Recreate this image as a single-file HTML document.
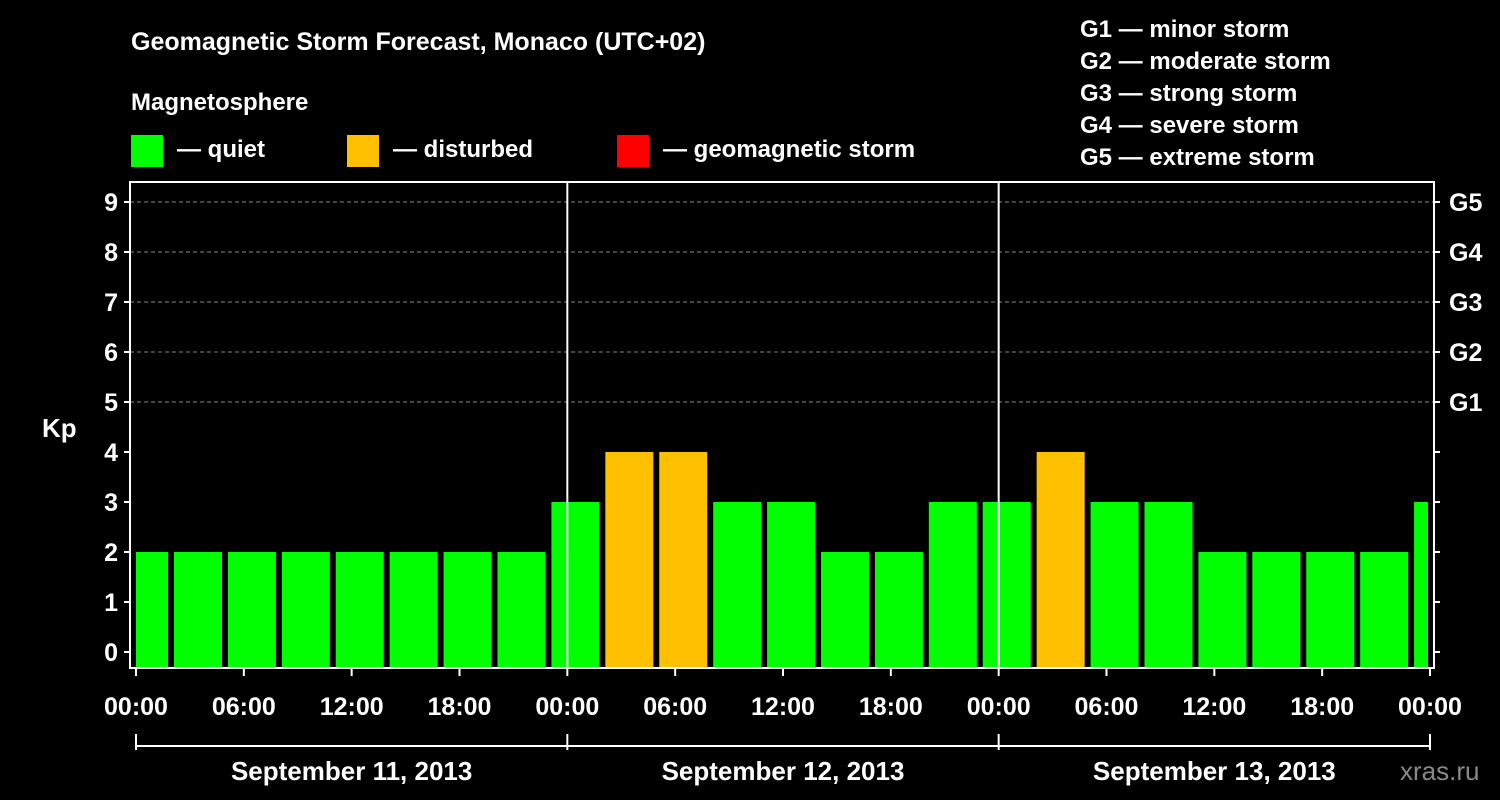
<!DOCTYPE html>
<html><head><meta charset="utf-8"><style>
html,body{margin:0;padding:0;background:#000;}
svg{display:block;font-family:"Liberation Sans",Arial,sans-serif;font-weight:bold;}
</style></head><body>
<svg id="chart" width="1500" height="800">
<text x="131" y="50" fill="#fff" font-size="25">Geomagnetic Storm Forecast, Monaco (UTC+02)</text>
<text x="131" y="110" fill="#fff" font-size="24">Magnetosphere</text>
<g><rect x="131" y="135" width="32" height="32" fill="#00ff00"/><text x="177" y="157" fill="#fff" font-size="24">— quiet</text></g>
<g><rect x="347" y="135" width="32" height="32" fill="#ffc000"/><text x="393" y="157" fill="#fff" font-size="24">— disturbed</text></g>
<g><rect x="617" y="135" width="32" height="32" fill="#ff0000"/><text x="663" y="157" fill="#fff" font-size="24">— geomagnetic storm</text></g>
<g fill="#fff" font-size="24">
<text x="1080" y="37">G1 — minor storm</text>
<text x="1080" y="69">G2 — moderate storm</text>
<text x="1080" y="101">G3 — strong storm</text>
<text x="1080" y="133">G4 — severe storm</text>
<text x="1080" y="165">G5 — extreme storm</text>
</g>
<text x="42" y="437" fill="#fff" font-size="26">Kp</text>
<text x="1400" y="780" fill="#888" font-size="26" font-weight="normal">xras.ru</text>
<g id="grid"></g><g id="bars"></g><g id="axes"></g>
</svg>
<script>
const kpValues=[2,2,2,2,2,2,2,2,3,4,4,3,3,2,2,3,3,4,3,3,2,2,2,2,3];
const barHours=[0.45,3.45,6.45,9.45,12.45,15.45,18.45,21.45,24.45,27.45,30.45,33.45,36.45,39.45,42.45,45.45,48.45,51.45,54.45,57.45,60.45,63.45,66.45,69.45,72.45];
const timeTickLabels=["00:00","06:00","12:00","18:00","00:00","06:00","12:00","18:00","00:00","06:00","12:00","18:00","00:00"];
const dayLabels=["September 11, 2013","September 12, 2013","September 13, 2013"];
const yTicks=[0,1,2,3,4,5,6,7,8,9];
const gLabels=["G1","G2","G3","G4","G5"];
const NS="http://www.w3.org/2000/svg";
const L=130,R=1434,T=182,B=668;
const x=h=>136+h*(1430-136)/72;
const y=k=>652-k*50;
function mk(tag,attrs,parent,txt){const e=document.createElementNS(NS,tag);for(const k in attrs)e.setAttribute(k,attrs[k]);if(txt!==undefined)e.textContent=txt;parent.appendChild(e);return e;}
const grid=document.getElementById('grid'),bars=document.getElementById('bars'),axes=document.getElementById('axes');
mk('clipPath',{id:'pc'},grid);mk('rect',{x:136,y:T,width:1292,height:B-T},grid.lastChild);
yTicks.forEach(k=>{if(k>=5){const l=mk('line',{x1:L,x2:R,y1:y(k),y2:y(k),stroke:'#888','stroke-dasharray':'4,3'},grid);

}});
kpValues.forEach((v,i)=>{const c=x(barHours[i]);const col=v>=5?'#ff0000':(v>=4?'#ffc000':'#00ff00');
const r=mk('rect',{x:c-24,y:y(v),width:48,height:B-y(v),fill:col,'clip-path':'url(#pc)'},bars);

});
[24,48].forEach(h=>{const l=mk('line',{x1:x(h),x2:x(h),y1:T,y2:B,stroke:'#fff','stroke-width':2},axes);

});
const fr=mk('rect',{x:L,y:T,width:R-L,height:B-T,fill:'none',stroke:'#fff','stroke-width':2},axes);


yTicks.forEach(k=>{mk('line',{x1:L-6,x2:L,y1:y(k),y2:y(k),stroke:'#fff','stroke-width':2},axes);
mk('line',{x1:R,x2:R+6,y1:y(k),y2:y(k),stroke:'#fff','stroke-width':2},axes);
const t=mk('text',{x:L-12,y:y(k)+9,fill:'#fff','font-size':25,'text-anchor':'end'},axes,String(k));

});
gLabels.forEach((g,i)=>{const t=mk('text',{x:1449,y:y(5+i)+9,fill:'#fff','font-size':25},axes,g);

});
timeTickLabels.forEach((s,i)=>{const h=i*6;mk('line',{x1:x(h),x2:x(h),y1:B,y2:B+8,stroke:'#fff','stroke-width':2},axes);
const t=mk('text',{x:x(h),y:715,fill:'#fff','font-size':25,'text-anchor':'middle'},axes,s);

});
mk('line',{x1:x(0),x2:x(72),y1:746,y2:746,stroke:'#fff','stroke-width':2},axes);
[0,24,48,72].forEach(h=>mk('line',{x1:x(h),x2:x(h),y1:734,y2:750,stroke:'#fff','stroke-width':2},axes));
dayLabels.forEach((s,i)=>{const t=mk('text',{x:x(12+24*i),y:780,fill:'#fff','font-size':26,'text-anchor':'middle'},axes,s);

});
</script>
</body></html>
